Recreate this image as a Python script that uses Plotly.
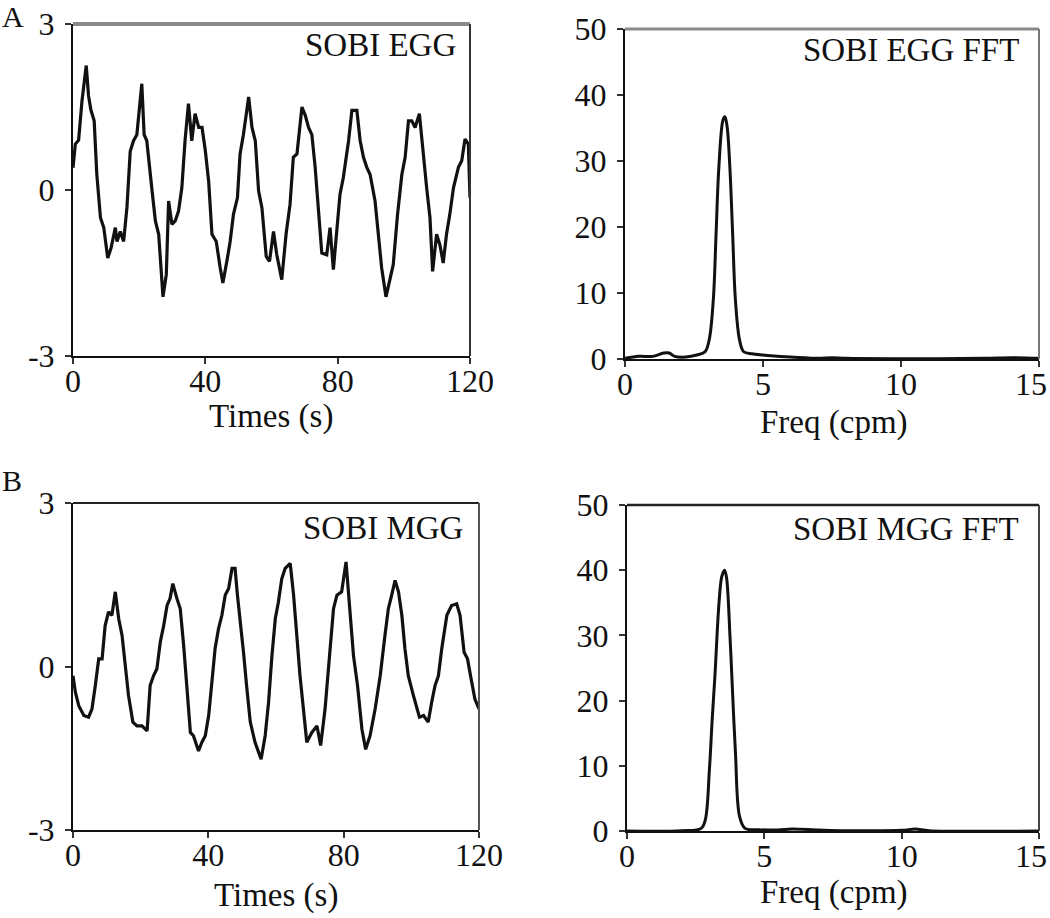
import plotly.graph_objects as go

# ---------------- Data ----------------
egg_t = [0, 0.7, 1.7, 2.7, 4.0, 4.7, 5.4, 6.4, 7.2, 8.3, 9.3, 10.5, 11.5, 12.8, 13.3, 14.3, 15.3,
         16.3, 17.3, 18.3, 19.3, 20.8, 21.5, 22.3, 23.8, 24.9, 25.9, 27.2, 28.2, 28.9, 29.9, 30.9,
         31.9, 32.9, 33.9, 34.9, 35.9, 36.9, 38.0, 39.0, 40.0, 41.0, 42.0, 43.3, 44.5, 45.3, 46.5,
         47.5, 48.5, 49.7, 50.5, 51.5, 53.1, 54.1, 55.1, 56.1, 57.1, 58.4, 59.4, 60.6, 61.6, 63.1,
         64.4, 65.6, 66.6, 67.7, 69.2, 70.2, 71.2, 72.2, 73.2, 74.2, 75.2, 76.7, 77.7, 78.7, 79.7,
         80.7, 81.7, 83.3, 84.3, 85.8, 86.8, 87.8, 88.8, 89.8, 91.3, 92.3, 93.3, 94.6, 95.6, 96.8,
         98.1, 99.4, 100.4, 101.4, 102.4, 103.4, 104.7, 105.7, 106.9, 107.9, 108.7, 109.9, 110.9,
         111.9, 112.9, 113.9, 115.0, 116.5, 117.5, 118.5, 119.5, 120]
egg_v = [0.4, 0.83, 0.9, 1.6, 2.25, 1.7, 1.45, 1.25, 0.28, -0.5, -0.68, -1.23, -1.05, -0.68, -0.93,
         -0.75, -0.93, -0.32, 0.7, 0.89, 1.0, 1.92, 1.0, 0.89, 0.04, -0.56, -0.8, -1.93, -1.53, -0.2,
         -0.62, -0.56, -0.38, 0.04, 0.92, 1.56, 0.89, 1.38, 1.13, 1.13, 0.71, 0.16, -0.8, -0.93,
         -1.41, -1.68, -1.29, -0.93, -0.44, -0.14, 0.65, 1.0, 1.68, 1.13, 0.89, -0.02, -0.32, -1.2,
         -1.29, -0.75, -1.17, -1.62, -0.8, -0.26, 0.59, 0.65, 1.5, 1.35, 1.13, 1.0, 0.41, -0.32,
         -1.14, -1.17, -0.68, -1.44, -0.68, -0.08, 0.22, 0.89, 1.44, 1.44, 0.89, 0.59, 0.41, 0.28,
         -0.2, -0.8, -1.41, -1.93, -1.65, -1.35, -0.44, 0.28, 0.59, 1.25, 1.25, 1.13, 1.38, 0.71,
         0.04, -0.5, -1.47, -0.8, -0.99, -1.32, -0.8, -0.44, 0.04, 0.41, 0.53, 0.92, 0.83, -0.14]

mgg_t = [0, 0.7, 1.7, 3.2, 4.6, 5.6, 6.6, 7.6, 8.6, 9.5, 10.5, 11.5, 12.5, 13.5, 14.5, 15.5, 16.4,
         17.7, 18.9, 20.4, 21.9, 22.8, 23.8, 24.8, 25.8, 26.8, 27.8, 28.7, 29.5, 30.7, 31.7, 32.7,
         33.7, 34.7, 35.6, 37.1, 38.1, 39.1, 40.1, 41.1, 42.0, 43.0, 44.0, 45.0, 46.0, 47.0, 47.9,
         48.6, 49.4, 50.4, 51.4, 52.4, 53.8, 55.6, 56.8, 57.8, 58.8, 59.8, 60.7, 61.7, 62.7, 64.2,
         65.2, 66.2, 67.1, 68.1, 69.1, 70.6, 72.1, 73.2, 74.5, 76.0, 77.0, 78.0, 79.4, 80.7, 81.9,
         82.9, 84.1, 85.4, 86.5, 87.8, 89.3, 90.8, 92.2, 93.2, 94.2, 95.2, 96.2, 97.2, 98.1, 99.1,
         100.6, 102.4, 103.6, 105.0, 106.0, 107.0, 108.0, 109.0, 110.5, 111.9, 113.4, 114.4, 115.6,
         116.6, 117.5, 118.8, 120]
mgg_v = [-0.17, -0.47, -0.72, -0.9, -0.93, -0.78, -0.35, 0.14, 0.14, 0.75, 1.0, 0.94, 1.37, 0.88,
         0.57, 0.02, -0.53, -1.02, -1.09, -1.09, -1.18, -0.35, -0.17, -0.04, 0.45, 0.75, 1.12, 1.25,
         1.52, 1.25, 1.06, 0.39, -0.41, -1.21, -1.27, -1.55, -1.39, -1.27, -0.9, -0.23, 0.33, 0.69,
         0.94, 1.31, 1.43, 1.8, 1.8, 1.31, 0.88, 0.26, -0.41, -1.02, -1.39, -1.7, -1.27, -0.66, 0.2,
         0.88, 1.18, 1.61, 1.8, 1.89, 1.31, 0.51, -0.17, -0.78, -1.39, -1.21, -1.09, -1.45, -0.78,
         0.33, 1.06, 1.31, 1.37, 1.92, 0.94, 0.2, -0.35, -1.15, -1.52, -1.27, -0.78, -0.17, 0.57,
         1.06, 1.31, 1.58, 1.37, 0.94, 0.33, -0.17, -0.53, -0.93, -0.9, -1.02, -0.66, -0.35, -0.17,
         0.33, 0.94, 1.12, 1.15, 0.94, 0.26, 0.14, -0.17, -0.6, -0.78]

egg_fft_f = [0, 0.5, 1.0, 1.4, 1.6, 1.8, 2.2, 2.6, 2.9, 3.05, 3.2, 3.3, 3.4, 3.55, 3.62, 3.7, 3.8,
             3.9, 4.0, 4.15, 4.3, 4.6, 5.0, 5.5, 6.0, 7.0, 7.5, 8.0, 10.0, 13.0, 14.0, 15.0]
egg_fft_a = [0.1, 0.4, 0.4, 0.9, 0.9, 0.4, 0.3, 0.6, 1.1, 2.9, 9, 19, 29, 36.2, 36.7, 35.2, 29,
             19, 9, 2.9, 1.1, 0.8, 0.6, 0.4, 0.3, 0.1, 0.2, 0.1, 0.05, 0.1, 0.2, 0.1]

mgg_fft_f = [0, 2.0, 2.7, 2.85, 3.0, 3.1, 3.2, 3.35, 3.45, 3.55, 3.62, 3.75, 3.85, 3.95, 4.1, 4.3,
             4.8, 5.5, 6.0, 7.0, 8.0, 10.0, 10.5, 11.0, 15.0]
mgg_fft_a = [0, 0.05, 0.4, 1.7, 9.4, 17, 23.7, 35, 39, 40, 39, 29.8, 20.6, 11.9, 2.2, 0.4,
             0.2, 0.15, 0.3, 0.15, 0.05, 0.1, 0.3, 0.05, 0]

time_ticks = [0, 40, 80, 120]
time_labels = ["0", "40", "80", "120"]
amp_ticks = [-3, 0, 3]
amp_labels = ["-3", "0", "3"]
freq_ticks = [0, 5, 10, 15]
freq_labels = ["0", "5", "10", "15\u00a0\u00a0"]
power_ticks = [0, 10, 20, 30, 40, 50]
power_labels = ["0", "10", "20", "30", "40", "50"]

panel_titles = ["SOBI EGG", "SOBI EGG FFT", "SOBI MGG", "SOBI MGG FFT"]
x_titles = ["Times (s)", "Freq (cpm)", "Times (s)", "Freq (cpm)"]
panel_letters = ["A", "B"]

# ---------------- Layout geometry ----------------
W, H = 1050, 918
FONT = "Liberation Serif"
TICK_SIZE = 32
TEXT_SIZE = 33


def px_x(p):
    return p / W


def px_y(p):
    return 1 - p / H


# pixel boxes: left, right, top, bottom
boxes = [
    (73, 470, 24, 356),
    (625, 1039, 29, 359),
    (73, 479, 503, 830),
    (627, 1039, 505, 831),
]

fig = go.Figure()

series = [
    (egg_t, egg_v, "linear", 3.2),
    (egg_fft_f, egg_fft_a, "spline", 3.0),
    (mgg_t, mgg_v, "linear", 3.2),
    (mgg_fft_f, mgg_fft_a, "spline", 3.0),
]
for i, (xs, ys, shape, w) in enumerate(series):
    sfx = "" if i == 0 else str(i + 1)
    fig.add_trace(go.Scatter(
        x=xs, y=ys, mode="lines", xaxis="x" + sfx, yaxis="y" + sfx,
        line=dict(color="#111111", width=w, shape=shape), showlegend=False,
        hoverinfo="skip"))

axis_common = dict(
    showline=True, linecolor="#111111", linewidth=2, ticks="outside", ticklen=6,
    tickwidth=2, tickcolor="#333333", showgrid=False, zeroline=False,
    tickfont=dict(family=FONT, size=TICK_SIZE, color="#111111"), automargin=False,
)

ranges = [
    ((0, 120), time_ticks, time_labels, (-3, 3), amp_ticks, amp_labels),
    ((0, 15), freq_ticks, freq_labels, (0, 50), power_ticks, power_labels),
    ((0, 120), time_ticks, time_labels, (-3, 3), amp_ticks, amp_labels),
    ((0, 15), freq_ticks, freq_labels, (0, 50), power_ticks, power_labels),
]

layout = {}
for i, ((l, r, t, b), (xr, xt, xl, yr, yt, yl)) in enumerate(zip(boxes, ranges)):
    sfx = "" if i == 0 else str(i + 1)
    layout["xaxis" + sfx] = dict(
        domain=[px_x(l), px_x(r)], range=list(xr), tickmode="array", tickvals=xt,
        ticktext=xl, anchor="y" + sfx, ticklabeloverflow="allow",
        ticklabelstandoff=-10, **axis_common)
    layout["yaxis" + sfx] = dict(
        domain=[px_y(b), px_y(t)], range=list(yr), tickmode="array", tickvals=yt,
        ticktext=yl, anchor="x" + sfx, ticklabelstandoff=4, **axis_common)

fig.update_layout(
    width=W, height=H, margin=dict(l=0, r=0, t=0, b=0),
    plot_bgcolor="white", paper_bgcolor="white", showlegend=False,
    font=dict(family=FONT, color="#111111"), **layout)

# top / right frame lines
frame_styles = [
    (("#8a8a8a", 4), ("#333333", 2)),
    (("#8a8a8a", 3), ("#777777", 2)),
    (("#222222", 2), ("#555555", 2)),
    (("#222222", 2.5), ("#444444", 2)),
]
for (l, r, t, b), ((tc, tw), (rc, rw)) in zip(boxes, frame_styles):
    fig.add_shape(type="line", xref="paper", yref="paper",
                  x0=px_x(l), x1=px_x(r), y0=px_y(t), y1=px_y(t),
                  line=dict(color=tc, width=tw))
    fig.add_shape(type="line", xref="paper", yref="paper",
                  x0=px_x(r), x1=px_x(r), y0=px_y(b), y1=px_y(t),
                  line=dict(color=rc, width=rw))

# in-panel labels (right aligned)
title_pos = [(458, 45), (1021, 50), (465, 528), (1021, 529)]
for txt, (xp, yp) in zip(panel_titles, title_pos):
    fig.add_annotation(text=txt, xref="paper", yref="paper", x=px_x(xp), y=px_y(yp),
                       xanchor="right", yanchor="middle", showarrow=False,
                       font=dict(family=FONT, size=TEXT_SIZE, color="#111111"))

# axis titles
xt_pos = [(271, 417), (834, 422), (276, 895), (834, 892)]
for txt, (xp, yp) in zip(x_titles, xt_pos):
    fig.add_annotation(text=txt, xref="paper", yref="paper", x=px_x(xp), y=px_y(yp),
                       xanchor="center", yanchor="middle", showarrow=False,
                       font=dict(family=FONT, size=TEXT_SIZE, color="#111111"))

# panel letters
for txt, (xp, yp) in zip(panel_letters, [(0, 16), (0, 480)]):
    fig.add_annotation(text=txt, xref="paper", yref="paper", x=px_x(xp), y=px_y(yp),
                       xanchor="left", yanchor="middle", showarrow=False,
                       font=dict(family=FONT, size=30, color="#111111"))

# the page's default body margin would offset the figure; remove it
fig.write_html("out.html", config={"displayModeBar": False},
               post_script="document.body.style.margin='0';document.body.style.padding='0';")
